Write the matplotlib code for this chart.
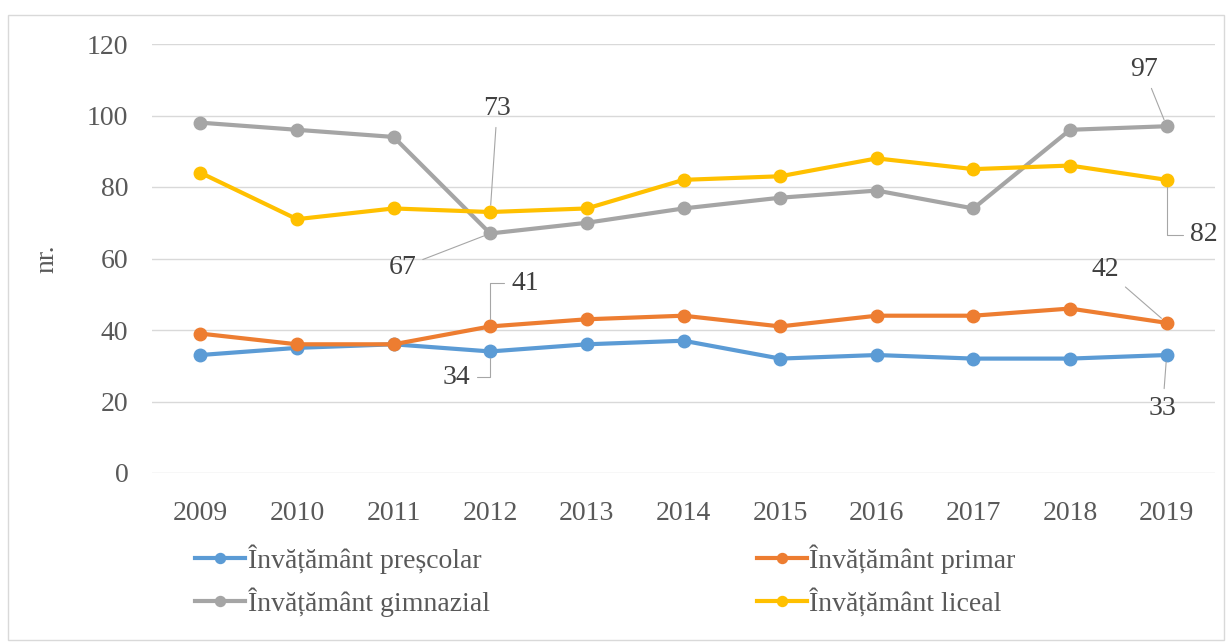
import matplotlib
matplotlib.use("Agg")
import matplotlib.pyplot as plt
from matplotlib.patches import Rectangle

years = ["2009", "2010", "2011", "2012", "2013", "2014", "2015", "2016", "2017", "2018", "2019"]
prescolar = [33, 35, 36, 34, 36, 37, 32, 33, 32, 32, 33]
primar = [39, 36, 36, 41, 43, 44, 41, 44, 44, 46, 42]
gimnazial = [98, 96, 94, 67, 70, 74, 77, 79, 74, 96, 97]
liceal = [84, 71, 74, 73, 74, 82, 83, 88, 85, 86, 82]

names = ["Învățământ preșcolar", "Învățământ primar", "Învățământ gimnazial", "Învățământ liceal"]
colors = ["#5B9BD5", "#ED7D31", "#A5A5A5", "#FFC000"]

plt.rcParams["font.family"] = ["Liberation Serif", "DejaVu Serif"]
fig = plt.figure(figsize=(12.31, 6.42), dpi=100)
fig.patches.append(Rectangle((8/1231, 2/642), 1216/1231, 625/642, transform=fig.transFigure,
                             fill=False, edgecolor="#D9D9D9", lw=1))
ax = fig.add_axes([152/1231, 1-473/642, 1063/1231, 429/642])

x = range(len(years))
series = [prescolar, primar, gimnazial, liceal]
lines = []
for vals, c, n in zip(series, colors, names):
    l, = ax.plot(x, vals, color=c, lw=3, marker="o", ms=9, label=n, zorder=3)
    lines.append(l)

ax.set_ylim(0, 120)
ax.set_xlim(-0.5, len(years) - 0.5)
ax.set_yticks(range(0, 121, 20))
ax.set_xticks(list(x))
ax.set_xticklabels(years)
ax.grid(axis="y", color="#D9D9D9", lw=1)
ax.set_axisbelow(True)
for s in ax.spines.values():
    s.set_visible(False)
ax.tick_params(length=0, labelsize=20, labelcolor="#595959", pad=17)
ax.tick_params(axis="x", pad=20)
ax.set_ylabel("nr.", fontsize=20, color="#595959", labelpad=20)

# data labels with leader lines (offsets in pixels)
labels = [
    (3, 73, "73", (7, 104), "arc3"),
    (3, 67, "67", (-88, -34), "arc3"),
    (3, 41, "41", (35, 43), "angle,angleA=0,angleB=90,rad=0"),
    (3, 34, "34", (-34, -26), "angle,angleA=0,angleB=90,rad=0"),
    (10, 97, "97", (-23, 57), "arc3"),
    (10, 82, "82", (37, -55), "angle,angleA=0,angleB=90,rad=0"),
    (10, 42, "42", (-61, 53), "arc3"),
    (10, 33, "33", (-4, -53), "arc3"),
]
for xi, yi, t, off, cs in labels:
    ax.annotate(t, (xi, yi), xytext=off, textcoords="offset pixels",
                ha="center", va="center", fontsize=20, color="#404040",
                arrowprops=dict(arrowstyle="-", color="#A6A6A6", lw=0.8,
                                connectionstyle=cs, shrinkA=3, shrinkB=5),
                zorder=4)

fig.legend(handles=[lines[0], lines[2], lines[1], lines[3]], loc="lower left",
           bbox_to_anchor=(184/1231, 14/642), ncol=2, frameon=False, fontsize=20,
           labelcolor="#595959", handlelength=1.8, handletextpad=0.1,
           columnspacing=9.6, borderaxespad=0, labelspacing=0.5, markerscale=0.8)

fig.savefig("out.png", dpi=100)
